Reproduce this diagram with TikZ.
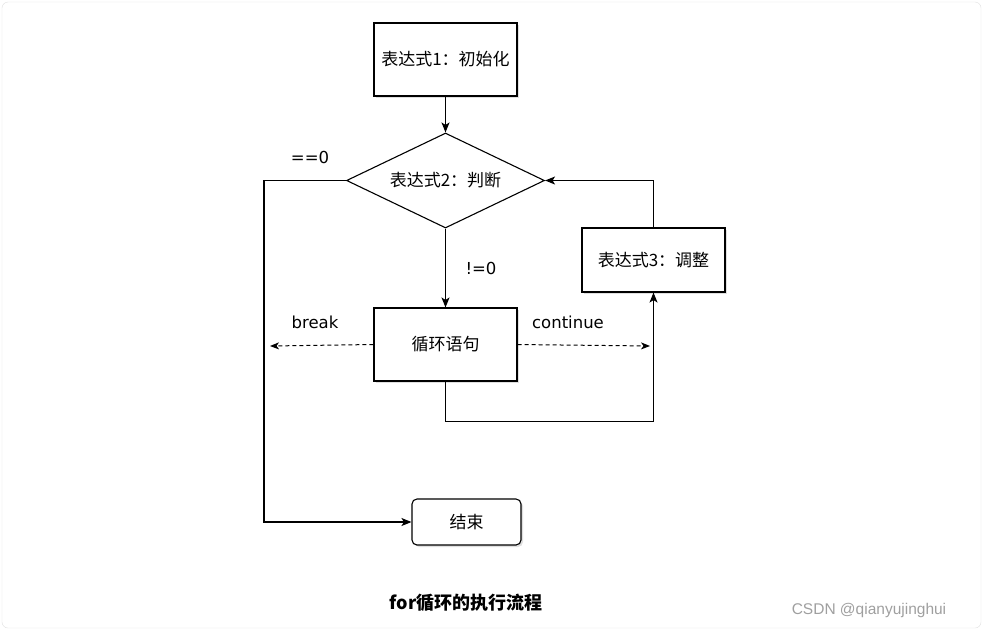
\documentclass[tikz,border=0pt]{standalone}
\usepackage{fontspec}
\setmainfont{DejaVu Sans}
\newfontfamily\cjk{Noto Sans CJK SC}
\newfontfamily\wmfont{Liberation Sans}
\usetikzlibrary{shapes.geometric, arrows.meta, shadows}
\tikzstyle{block} = [rectangle, draw, fill=white, minimum width=143pt, line width=1.1pt, font=\cjk\fontsize{17}{19}\selectfont, drop shadow={shadow xshift=2pt, shadow yshift=-2pt, opacity=0.25}]
\tikzstyle{decision} = [diamond, aspect=2, draw, fill=white, minimum width=198pt, minimum height=95pt, inner sep=0pt, line width=1.1pt, font=\cjk\fontsize{17}{19}\selectfont]
\tikzstyle{line} = [draw, -{Stealth[length=10pt, width=8pt, inset=2.5pt]}, line width=1.1pt]
\tikzstyle{jump} = [draw, -{Stealth[length=9pt, width=7pt, inset=2.5pt]}, dash pattern=on 4pt off 3pt, line width=1pt]
\tikzstyle{lbl} = [font=\fontsize{16.5}{18}\selectfont]

\begin{document}
\begin{tikzpicture}[x=1pt, y=-1pt]
        \useasboundingbox (0,0) rectangle (984,630);
        \draw [gray!25, rounded corners=6pt] (2,2) rectangle (981,628);

        % Nodes
        \node [block, minimum height=73pt] (init) at (445.5,59.5) {表达式1：初始化};
        \node [decision] (judge) at (445.5,180.5) {表达式2：判断};
        \node [block, minimum height=64pt] (adjust) at (653.5,260) {表达式3：调整};
        \node [block, minimum height=73pt] (body) at (445.5,344.5) {循环语句};
        \node [block, rounded corners=5pt, minimum width=109pt, minimum height=46pt] (stop) at (466.5,522) {结束};
        \coordinate (left) at (264,180.5);
        \coordinate (brk) at (270,346);
        \coordinate (cnt) at (650,346);

        % Labels
        \node [lbl] (eqzero) at (310,157) {==0};
        \node [lbl] (nezero) at (481,268) {!=0};
        \node [lbl] (brklbl) at (315,322) {break};
        \node [lbl] (cntlbl) at (568,322) {continue};

        % Edges
        \path [line] (init) -- (judge);
        \path [line] (judge) -- (body);
        \path [line] (judge.west) -- (left) |- (stop.west);
        \path [line] (adjust.north) |- (judge.east);
        \path [line] (body.south) -- ++(0,40) -| (adjust.south);
        \path [jump] (body.west) -- (brk);
        \path [jump] (body.east) -- (cnt);

        % Caption
        \node [font=\cjk\bfseries\fontsize{18}{20}\selectfont] (title) at (466,603) {for循环的执行流程};
        \node [font=\wmfont\fontsize{15.5}{17}\selectfont, text=gray!75] (mark) at (869,610) {CSDN @qianyujinghui};
    \end{tikzpicture}
\end{document}
